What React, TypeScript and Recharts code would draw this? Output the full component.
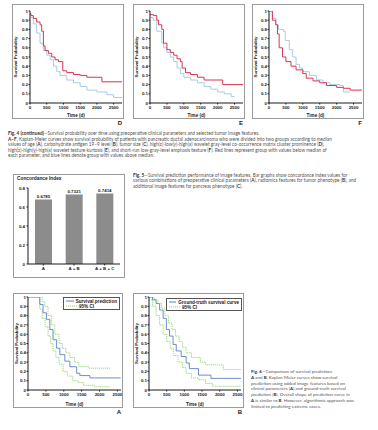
import { Bar, BarChart, LabelList, Legend, Line, LineChart, XAxis, YAxis } from "recharts";

const survivalTicks = [0, 0.1, 0.2, 0.3, 0.4, 0.5, 0.6, 0.7, 0.8, 0.9, 1];
const timeTicks = [0, 500, 1000, 1500, 2000, 2500];

// Fig. 4 D - cluster prominence
const dRedTime = [0, 30, 100, 200, 300, 350, 400, 450, 550, 650, 750, 850, 980, 1100, 1300, 1500, 1700, 2150, 2750];
const dRedProb = [0.97, 0.95, 0.92, 0.88, 0.85, 0.78, 0.62, 0.57, 0.54, 0.5, 0.47, 0.45, 0.35, 0.33, 0.31, 0.3, 0.28, 0.23, 0.23];
const dBlueTime = [0, 100, 200, 300, 400, 500, 600, 700, 800, 900, 1100, 1300, 1500, 1700, 2000, 2300, 2500, 2750];
const dBlueProb = [0.93, 0.86, 0.76, 0.65, 0.57, 0.52, 0.47, 0.4, 0.34, 0.3, 0.25, 0.22, 0.18, 0.14, 0.12, 0.09, 0.06, 0.06];

// Fig. 4 E - kurtosis
const eRedTime = [0, 100, 200, 250, 350, 400, 500, 600, 700, 800, 900, 950, 1050, 1200, 1400, 1600, 2150, 2750];
const eRedProb = [0.96, 0.95, 0.9, 0.85, 0.8, 0.65, 0.58, 0.55, 0.52, 0.48, 0.45, 0.38, 0.33, 0.31, 0.28, 0.25, 0.2, 0.2];
const eBlueTime = [0, 100, 200, 350, 400, 500, 600, 700, 800, 900, 1000, 1200, 1400, 1600, 1800, 2000, 2200, 2400, 2500];
const eBlueProb = [0.93, 0.9, 0.78, 0.65, 0.6, 0.55, 0.5, 0.45, 0.38, 0.32, 0.28, 0.25, 0.22, 0.18, 0.15, 0.12, 0.1, 0.07, 0.07];

// Fig. 4 F - short-run low-gray-level emphasis
const fRedTime = [0, 100, 200, 250, 300, 400, 500, 650, 800, 1000, 1100, 1300, 1500, 1700, 2000, 2200, 2400, 2750];
const fRedProb = [1, 0.9, 0.85, 0.75, 0.6, 0.5, 0.45, 0.4, 0.36, 0.32, 0.27, 0.24, 0.22, 0.19, 0.17, 0.16, 0.14, 0.14];
const fBlueTime = [0, 100, 200, 280, 430, 480, 600, 700, 800, 900, 1000, 1200, 1400, 1600, 1800, 2100, 2200, 2400];
const fBlueProb = [1, 0.92, 0.85, 0.8, 0.78, 0.68, 0.58, 0.5, 0.42, 0.38, 0.34, 0.3, 0.25, 0.22, 0.2, 0.19, 0.12, 0.12];

// Fig. 5 concordance index
const barCategories = ["A", "A + B", "A + B + C"];
const concordance = [0.6785, 0.7321, 0.7414];
const concordanceTicks = [0, 0.2, 0.4, 0.6, 0.8];

// Fig. 6 A - survival prediction
const aPredTime = [0, 280, 330, 420, 515, 610, 700, 800, 890, 1030, 1170, 1360, 1450, 1730, 2590];
const aPredProb = [1, 1, 0.92, 0.83, 0.76, 0.65, 0.54, 0.45, 0.38, 0.31, 0.25, 0.18, 0.155, 0.13, 0.13];
const aUpperTime = [0, 330, 400, 470, 560, 650, 750, 870, 960, 1060, 1170, 1300, 1420, 1700, 2300];
const aUpperProb = [1, 1, 0.95, 0.9, 0.8, 0.7, 0.6, 0.5, 0.45, 0.4, 0.35, 0.3, 0.25, 0.235, 0.235];
const aLowerTime = [0, 280, 330, 400, 480, 560, 630, 700, 780, 870, 980, 1100, 1250, 1400, 1550, 1850, 2300];
const aLowerProb = [1, 1, 0.87, 0.77, 0.68, 0.58, 0.5, 0.42, 0.35, 0.28, 0.2, 0.15, 0.1, 0.08, 0.05, 0.035, 0.035];

// Fig. 6 B - ground truth
const bTruthTime = [0, 100, 200, 300, 400, 490, 580, 680, 770, 910, 1050, 1140, 1400, 1750, 2600];
const bTruthProb = [1, 0.97, 0.93, 0.86, 0.77, 0.65, 0.58, 0.49, 0.42, 0.36, 0.29, 0.23, 0.16, 0.125, 0.125];
const bUpperTime = [0, 100, 150, 250, 350, 450, 550, 650, 750, 850, 950, 1050, 1200, 1450, 1600, 2100, 2600];
const bUpperProb = [1, 1, 0.97, 0.93, 0.88, 0.8, 0.72, 0.65, 0.58, 0.52, 0.46, 0.4, 0.35, 0.3, 0.27, 0.22, 0.22];
const bLowerTime = [0, 100, 200, 300, 400, 500, 600, 700, 820, 950, 1050, 1200, 1400, 1600, 1800, 2600];
const bLowerProb = [0.97, 0.9, 0.8, 0.7, 0.6, 0.52, 0.45, 0.37, 0.3, 0.24, 0.18, 0.13, 0.11, 0.07, 0.04, 0.04];

const RED = "#d8344f";
const LIGHT_BLUE = "#a8cbe9";
const BLUE = "#5b80c6";
const GREEN = "#8fd46b";
const INK = "#1a1a1a";
const FONT = "'Liberation Sans', Arial, sans-serif";
const CAPTION_FONT = "Lato, 'Open Sans', sans-serif";

const toSteps = (time: number[], prob: number[]) => time.map((t, i) => ({ t, p: prob[i] }));

type Series = {
  name: string;
  time: number[];
  prob: number[];
  color: string;
  dashed?: boolean;
  hideLegend?: boolean;
};

// tiny tick labels drawn by hand, positions come from the axis
function YTick({ x, y, payload }: any) {
  return (
    <text x={x} y={y} dy={1.6} textAnchor="end" fontSize={4.4} fontFamily={FONT} fontWeight={700} fill={INK}>
      {payload.value}
    </text>
  );
}

function XTick({ x, y, payload }: any) {
  return (
    <text x={x} y={y} dy={3.6} textAnchor="middle" fontSize={4.4} fontFamily={FONT} fontWeight={700} fill={INK}>
      {payload.value}
    </text>
  );
}

function CurveLegend({ payload }: any) {
  // lower CI band shares the legend entry of the upper one
  const items = (payload ?? [])
    .filter((e: any) => e.type !== "none" && !String(e.value).includes("lower"))
    .sort((a: any, b: any) => (String(a.value).includes("CI") ? 1 : 0) - (String(b.value).includes("CI") ? 1 : 0));
  return (
    <div
      style={{
        border: "0.8px solid #555",
        background: "#fff",
        padding: "0.5px 2px",
        fontFamily: FONT,
        fontSize: 4.6,
        fontWeight: 700,
        lineHeight: "5px",
        color: INK,
      }}
    >
      {items.map((entry: any) => (
        <div key={entry.value} style={{ display: "flex", alignItems: "center", whiteSpace: "nowrap" }}>
          <svg width={11} height={4} style={{ marginRight: 2 }}>
            <line
              x1={0}
              x2={11}
              y1={2}
              y2={2}
              stroke={entry.color}
              strokeWidth={1}
              strokeDasharray={String(entry.value).includes("CI") ? "1.2 0.8" : undefined}
            />
          </svg>
          {entry.value}
        </div>
      ))}
    </div>
  );
}

interface KMProps {
  width: number;
  height: number;
  yAxisWidth: number;
  xAxisHeight: number;
  marginTop: number;
  marginRight: number;
  xMax: number;
  series: Series[];
  strokeWidth: number;
  legend?: { left: number; top: number; width: number };
}

function KaplanMeier(props: KMProps) {
  const { width, height, yAxisWidth, xAxisHeight, marginTop, marginRight, xMax, series, strokeWidth, legend } = props;
  return (
    <LineChart width={width} height={height} margin={{ top: marginTop, right: marginRight, bottom: 0, left: 0 }}>
      <XAxis
        type="number"
        dataKey="t"
        domain={[0, xMax]}
        ticks={timeTicks}
        interval={0}
        allowDataOverflow
        height={xAxisHeight}
        tick={<XTick />}
        tickSize={1.5}
        tickMargin={0.5}
        stroke={INK}
        label={{ value: "Time (d)", position: "insideBottom", offset: 2, style: { fontSize: 4.6, fontWeight: 700, fill: INK, fontFamily: FONT } }}
      />
      <YAxis
        type="number"
        dataKey="p"
        domain={[0, 1]}
        ticks={survivalTicks}
        interval={0}
        allowDataOverflow
        width={yAxisWidth}
        tick={<YTick />}
        tickSize={1.5}
        tickMargin={0.5}
        stroke={INK}
        label={{
          value: "Survival Probability",
          angle: -90,
          position: "insideLeft",
          offset: 3,
          style: { textAnchor: "middle", fontSize: 4.4, fontWeight: 700, fill: INK, fontFamily: FONT },
        }}
      />
      {legend && (
        <Legend
          layout="horizontal"
          verticalAlign="middle"
          align="center"
          content={<CurveLegend />}
          wrapperStyle={{ position: "absolute", left: legend.left, top: legend.top, width: legend.width, height: "auto" }}
        />
      )}
      {series.map((s) => (
        <Line
          key={s.name}
          name={s.name}
          data={toSteps(s.time, s.prob)}
          dataKey="p"
          type="stepAfter"
          stroke={s.color}
          strokeWidth={strokeWidth}
          strokeDasharray={s.dashed ? "1.2 0.8" : undefined}
          dot={false}
          legendType={s.hideLegend ? "none" : "line"}
          isAnimationActive={false}
        />
      ))}
    </LineChart>
  );
}

function Frame({ left, top, width, height, letter }: { left: number; top: number; width: number; height: number; letter?: string }) {
  return (
    <>
      <div
        style={{
          position: "absolute",
          left,
          top,
          width: width - 2,
          height: height - 2,
          border: "1px solid #9a9a9a",
        }}
      />
      {letter && (
        <div
          style={{
            position: "absolute",
            left: left + width - 12,
            top: top + height + 1,
            width: 10,
            textAlign: "right",
            fontFamily: FONT,
            fontWeight: 700,
            fontSize: 6,
            lineHeight: "6px",
            color: INK,
          }}
        >
          {letter}
        </div>
      )}
    </>
  );
}

function Caption({ left, top, size, lineHeight, lines }: { left: number; top: number; size: number; lineHeight: number; lines: React.ReactNode[] }) {
  return (
    <div
      style={{
        position: "absolute",
        left,
        top,
        fontFamily: CAPTION_FONT,
        fontSize: size,
        lineHeight: `${lineHeight}px`,
        color: "#555",
        whiteSpace: "nowrap",
      }}
    >
      {lines.map((l, i) => (
        <div key={i}>{l}</div>
      ))}
    </div>
  );
}

const B = ({ children }: { children: React.ReactNode }) => <b style={{ color: "#333" }}>{children}</b>;

const fig4Lines = [
  <><B>Fig. 4 (continued)</B>—Survival probability over time using preoperative clinical parameters and selected tumor image features.</>,
  <><B>A–F</B>, Kaplan-Meier curves show survival probability of patients with pancreatic ductal adenocarcinoma who were divided into two groups according to median</>,
  <>values of age (<B>A</B>), carbohydrate antigen 19–9 level (<B>B</B>), tumor size (<B>C</B>), high(z)-low(y)-high(x) wavelet gray-level co-occurrence matrix cluster prominence (<B>D</B>),</>,
  <>high(z)-high(y)-high(x) wavelet texture kurtosis (<B>E</B>), and short-run low-gray-level emphasis texture (<B>F</B>). Red lines represent group with values below median of</>,
  <>each parameter, and blue lines denote group with values above median.</>,
];

const fig5Lines = [
  <><B>Fig. 5</B>—Survival prediction performance of image features. Bar graphs show concordance index values for</>,
  <>various combinations of preoperative clinical parameters (<B>A</B>), radiomics features for tumor phenotype (<B>B</B>), and</>,
  <>additional image features for pancreas phenotype (<B>C</B>).</>,
];

const fig6Lines = [
  <><B>Fig. 6</B>—Comparison of survival prediction.</>,
  <><B>A</B> and <B>B</B>, Kaplan-Meier curves show survival</>,
  <>prediction using added image features based on</>,
  <>clinical parameters (<B>A</B>) and ground-truth survival</>,
  <>prediction (<B>B</B>). Overall shape of prediction curve in</>,
  <><B>A</B> is similar to <B>B</B>. However, algorithmic approach was</>,
  <>limited to predicting extreme cases.</>,
];

const topPanels = [
  {
    letter: "D",
    left: 12,
    yAxisWidth: 18,
    series: [
      { name: "Above median", time: dBlueTime, prob: dBlueProb, color: LIGHT_BLUE },
      { name: "Below median", time: dRedTime, prob: dRedProb, color: RED },
    ],
  },
  {
    letter: "E",
    left: 133,
    yAxisWidth: 17,
    series: [
      { name: "Above median", time: eBlueTime, prob: eBlueProb, color: LIGHT_BLUE },
      { name: "Below median", time: eRedTime, prob: eRedProb, color: RED },
    ],
  },
  {
    letter: "F",
    left: 252,
    yAxisWidth: 17,
    series: [
      { name: "Above median", time: fBlueTime, prob: fBlueProb, color: LIGHT_BLUE },
      { name: "Below median", time: fRedTime, prob: fRedProb, color: RED },
    ],
  },
];

export default function App() {
  const barData = barCategories.map((name, i) => ({ name, value: concordance[i] }));
  return (
    <div
      style={{
        position: "absolute",
        left: 0,
        top: 0,
        width: 378,
        height: 430,
        background: "#fff",
        overflow: "hidden",
        fontFamily: FONT,
      }}
    >
      {topPanels.map((p) => (
        <div key={p.letter}>
          <Frame left={p.left} top={4} width={112} height={115} letter={p.letter} />
          <div style={{ position: "absolute", left: p.left, top: 4 }}>
            <KaplanMeier
              width={112}
              height={115}
              yAxisWidth={p.yAxisWidth}
              xAxisHeight={16}
              marginTop={7}
              marginRight={2}
              xMax={2750}
              strokeWidth={1}
              series={p.series}
            />
          </div>
        </div>
      ))}

      <Caption left={8} top={131} size={4.7} lineHeight={5.5} lines={fig4Lines} />

      <Frame left={13} top={174} width={112} height={104} />
      <div
        style={{
          position: "absolute",
          left: 17,
          top: 176,
          fontFamily: FONT,
          fontWeight: 700,
          fontSize: 4.8,
          color: INK,
        }}
      >
        Concordance Index
      </div>
      <div style={{ position: "absolute", left: 13, top: 174 }}>
        <BarChart width={112} height={104} data={barData} margin={{ top: 14, right: 5, bottom: 0, left: 0 }}>
          <XAxis dataKey="name" height={14} interval={0} tick={<XTick />} tickSize={1.5} tickMargin={1} stroke={INK} />
          <YAxis
            type="number"
            domain={[0, 0.8]}
            ticks={concordanceTicks}
            interval={0}
            width={15}
            tick={<YTick />}
            tickSize={1.5}
            tickMargin={1.5}
            stroke={INK}
          />
          <Bar dataKey="value" fill="#8c8c8c" barSize={17} isAnimationActive={false}>
            <LabelList
              dataKey="value"
              position="top"
              offset={1.5}
              formatter={(v: any) => Number(v).toFixed(4)}
              style={{ fontSize: 4.4, fontWeight: 700, fill: INK, fontFamily: FONT }}
            />
          </Bar>
        </BarChart>
      </div>

      <Caption left={133} top={172.5} size={4.7} lineHeight={5.5} lines={fig5Lines} />

      <Frame left={13} top={293} width={110} height={115} letter="A" />
      <div style={{ position: "absolute", left: 13, top: 293 }}>
        <KaplanMeier
          width={110}
          height={115}
          yAxisWidth={15}
          xAxisHeight={18}
          marginTop={4}
          marginRight={2}
          xMax={2600}
          strokeWidth={0.9}
          legend={{ left: 50, top: 4, width: 57 }}
          series={[
            { name: "95% CI lower", time: aLowerTime, prob: aLowerProb, color: GREEN, dashed: true, hideLegend: true },
            { name: "Survival prediction", time: aPredTime, prob: aPredProb, color: BLUE },
            { name: "95% CI", time: aUpperTime, prob: aUpperProb, color: GREEN, dashed: true },
          ]}
        />
      </div>

      <Frame left={133} top={293} width={111} height={115} letter="B" />
      <div style={{ position: "absolute", left: 133, top: 293 }}>
        <KaplanMeier
          width={111}
          height={115}
          yAxisWidth={16}
          xAxisHeight={18}
          marginTop={4}
          marginRight={3}
          xMax={2600}
          strokeWidth={0.9}
          legend={{ left: 33, top: 5, width: 76 }}
          series={[
            { name: "95% CI lower", time: bLowerTime, prob: bLowerProb, color: GREEN, dashed: true, hideLegend: true },
            { name: "Ground-truth survival curve", time: bTruthTime, prob: bTruthProb, color: BLUE },
            { name: "95% CI", time: bUpperTime, prob: bUpperProb, color: GREEN, dashed: true },
          ]}
        />
      </div>

      <Caption left={251} top={369} size={4.5} lineHeight={5.8} lines={fig6Lines} />
    </div>
  );
}
